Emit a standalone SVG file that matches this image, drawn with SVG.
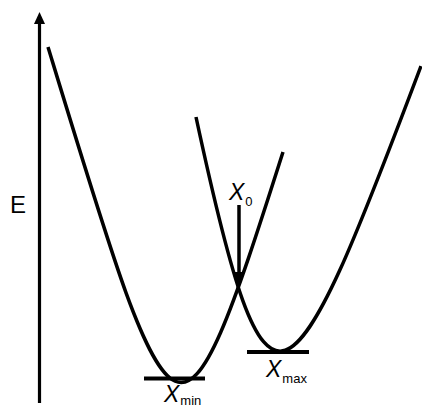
<svg xmlns="http://www.w3.org/2000/svg" width="422" height="409" viewBox="0 0 422 409">
<style>
.c{fill:none;stroke:#000;stroke-width:3.5;stroke-linecap:butt}
.t{font-family:"Liberation Sans",Arial,sans-serif;fill:#000}
.x{font-style:italic;font-size:23px}
.s{font-size:13px}
</style>
<rect width="422" height="409" fill="#fff"/>
<g id="axis">
<line x1="39.5" y1="403" x2="39.5" y2="22" stroke="#000" stroke-width="3.2"/>
<polygon points="34,24 45,24 39.5,12" fill="#000"/>
<text class="t" x="10" y="212.5" font-size="24">E</text>
</g>
<g id="curve-left">
<path class="c" d="M48,47 C176,467 178,482 283,152"/>
<line x1="144" y1="378.5" x2="205" y2="378.5" stroke="#000" stroke-width="4"/>
<text class="t x" x="164" y="402">X<tspan class="s" dx="1" dy="3" font-style="normal">min</tspan></text>
</g>
<g id="curve-right">
<path class="c" d="M196,117 C268,452 287.2,421 421,66"/>
<line x1="247" y1="352" x2="309" y2="352" stroke="#000" stroke-width="4"/>
<text class="t x" x="266" y="377">X<tspan class="s" dx="1" dy="5.5" font-style="normal">max</tspan></text>
</g>
<g id="connectors">
<line x1="239" y1="205" x2="239" y2="274" stroke="#000" stroke-width="3.5"/>
<polygon points="234,272 244,272 239,286" fill="#000"/>
</g>
<g id="x0">
<text class="t x" x="229" y="200">X<tspan class="s" dx="1" dy="6" font-style="normal">0</tspan></text>
</g>
</svg>
